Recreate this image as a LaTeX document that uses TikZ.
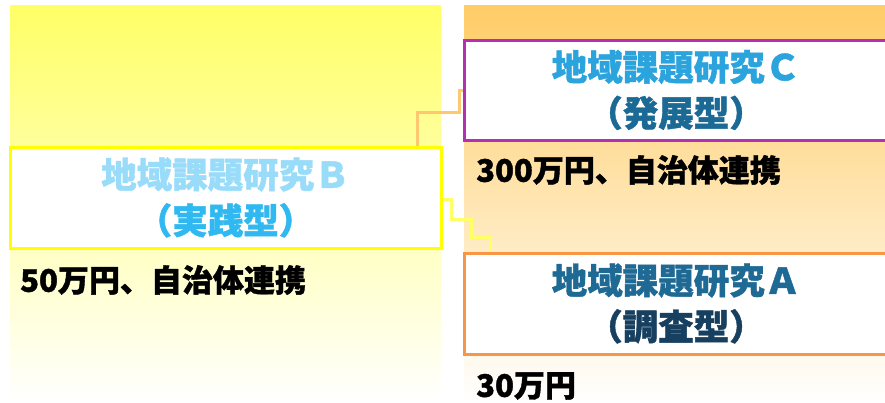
\documentclass[tikz,border=0pt]{standalone}
\usepackage{fontspec}
\newfontfamily\cjk{Noto Sans CJK JP}[BoldFeatures={FakeBold=1.2}]
\definecolor{ylwtop}{HTML}{FFFF66}
\definecolor{ylwmid}{HTML}{FFFFC4}
\definecolor{orgtop}{HTML}{FFCC66}
\definecolor{orgmid}{HTML}{FFE6C4}
\definecolor{bordB}{HTML}{FFFF00}
\definecolor{bordC}{HTML}{B32FB3}
\definecolor{bordA}{HTML}{F79646}
\definecolor{stairO}{HTML}{FFC870}
\definecolor{stairY}{HTML}{FFFF66}
\definecolor{tB1}{HTML}{99DCFA}
\definecolor{tB2}{HTML}{30B8F0}
\definecolor{tC1}{HTML}{2BA3DC}
\definecolor{tC2}{HTML}{1B6A96}
\definecolor{tA1}{HTML}{1E6A94}
\definecolor{tA2}{HTML}{173F5F}
\begin{document}
\begin{tikzpicture}[x=1pt,y=-1pt,
  box/.style={draw, line width=3pt, fill=white, inner sep=0pt, align=center,
    font=\cjk\bfseries\fontsize{35.5}{46}\selectfont},
  note/.style={inner sep=0pt, anchor=west, text=black,
    font=\cjk\bfseries\fontsize{31}{34}\selectfont},
  stair/.style={line width=3pt}]
\useasboundingbox (0,0) rectangle (885,402);
\fill[white] (0,0) rectangle (885,402);
% background panels
\shade[top color=ylwtop, middle color=ylwmid, bottom color=white] (10,5) rectangle (441,402);
\shade[top color=orgtop, middle color=orgmid, bottom color=white] (464,5) rectangle (885,402);
% stair connectors (drawn under the boxes)
\path (225.5,197.5) coordinate (cB) (676,90) coordinate (cC) (676,303.5) coordinate (cA);
\node[minimum width=431pt, minimum height=101pt, inner sep=0pt] (boxB) at (cB) {};
\node[minimum width=424pt, minimum height=100pt, inner sep=0pt] (boxC) at (cC) {};
\node[minimum width=424pt, minimum height=101pt, inner sep=0pt] (boxA) at (cA) {};
\coordinate (o1) at (459,90);
\coordinate (o2) at (459,112);
\coordinate (o3) at (417,112);
\draw[stair, draw=stairO] (boxC.west) -- (o1) -- (o2) -- (o3) -- (o3 |- boxB.north);
\coordinate (y1) at (451,199);
\coordinate (y2) at (451,219);
\coordinate (y3) at (471,219);
\coordinate (y4) at (471,237);
\coordinate (y5) at (490,237);
\draw[stair, draw=stairY] (boxB.east |- y1) -- (y1) -- (y2) -- (y3) -- (y4) -- (y5) -- (y5 |- boxA.north);
% boxes
\node[box, draw=bordB, minimum width=431pt, minimum height=101pt] (bB) at (boxB)
  {\textcolor{tB1}{地域課題研究Ｂ}\\\textcolor{tB2}{（実践型）}};
\node[box, draw=bordC, minimum width=424pt, minimum height=100pt] (bC) at (boxC)
  {\textcolor{tC1}{地域課題研究Ｃ}\\\textcolor{tC2}{（発展型）}};
\node[box, draw=bordA, minimum width=424pt, minimum height=101pt] (bA) at (boxA)
  {\textcolor{tA1}{地域課題研究Ａ}\\\textcolor{tA2}{（調査型）}};
% notes
\node[note] (nB) at (20,280) {50万円、自治体連携};
\node[note] (nC) at (476,170) {300万円、自治体連携};
\node[note] (nA) at (476,386) {30万円};
\end{tikzpicture}
\end{document}
